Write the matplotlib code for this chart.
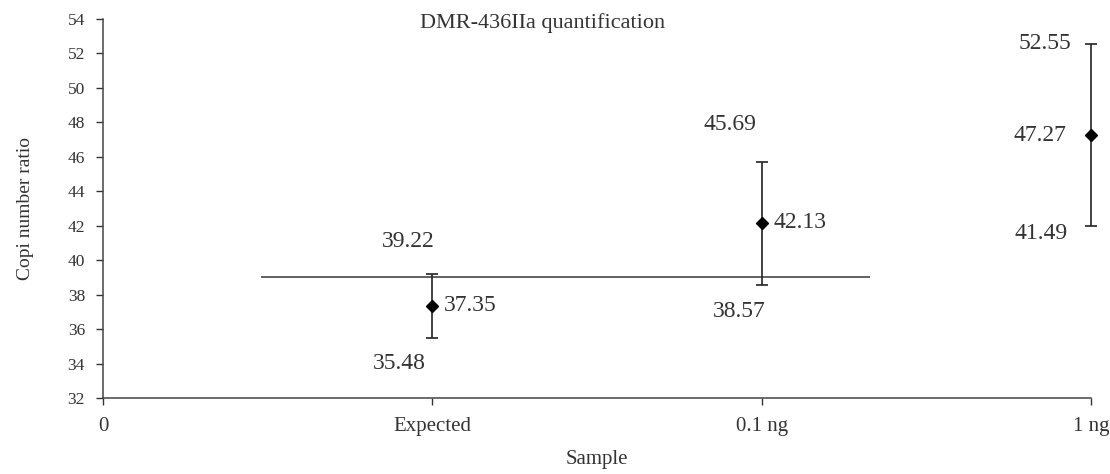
import numpy as np
import matplotlib.pyplot as plt

plt.rcParams['font.family'] = ['Liberation Serif', 'DejaVu Serif']

# data
samples = ['Expected', '0.1 ng', '1 ng']
means = [37.35, 42.13, 47.27]
upper = [39.22, 45.69, 52.55]
lower = [35.48, 38.57, 41.49]   # labels as printed in the chart
ref_level = 39.05               # horizontal reference line
ref_span = (0.48, 2.33)
yticks = np.arange(32, 55, 2)
xtick_labels = ['0'] + samples

# label offsets in pixels (upper, mean, lower), picked by eye
off_up = [(-24, 32), (-32, 38), (-46, 0)]
off_mid = [(11, 0), (12, 1), (-51, -1)]
off_lo = [(-33, -25), (-23, -27), (-50, 1)]
mid_ha = ['left', 'left', 'center']

fig = plt.figure(figsize=(11.1, 4.74), dpi=100)
ax = fig.add_axes([0.0928, 0.1603, 0.8902, 0.7997])

x = np.arange(1, len(samples) + 1)
m = np.array(means)
# bars are drawn symmetric (upper - mean), as in the original
err = np.array(upper) - m

ax.hlines(ref_level, *ref_span, color='#555555', lw=1.3)
ax.errorbar(x, m, yerr=err, fmt='D', color='black', ms=6, ecolor='#222222',
            elinewidth=1.2, capsize=4, capthick=1.2, clip_on=False, zorder=3)

for i in range(len(samples)):
    ax.annotate(f'{upper[i]:.2f}', (x[i], upper[i]), xytext=off_up[i],
                textcoords='offset pixels', ha='center', va='center', fontsize=17, color='#333333')
    ax.annotate(f'{means[i]:.2f}', (x[i], means[i]), xytext=off_mid[i],
                textcoords='offset pixels', ha=mid_ha[i], va='center', fontsize=17, color='#333333')
    ax.annotate(f'{lower[i]:.2f}', (x[i], lower[i]), xytext=off_lo[i],
                textcoords='offset pixels', ha='center', va='center', fontsize=17, color='#333333')

ax.set_xlim(0, 3)
ax.set_ylim(32, 54)
ax.set_xticks(np.arange(0, 4))
ax.set_xticklabels(xtick_labels)
ax.set_yticks(yticks)
ax.tick_params(axis='both', colors='#333333', length=5, width=1)
ax.tick_params(axis='y', labelsize=12.5, pad=8)
ax.tick_params(axis='x', labelsize=15, pad=9)
for s in ['top', 'right']:
    ax.spines[s].set_visible(False)
for s in ['left', 'bottom']:
    ax.spines[s].set_color('#444444')
    ax.spines[s].set_linewidth(1.1)

ax.set_xlabel('Sample', fontsize=15, color='#333333', labelpad=10)
ax.set_ylabel('Copi number ratio', fontsize=14, color='#333333')
ax.yaxis.set_label_coords(-0.07, 0.5)
ax.text(0.445, 0.988, 'DMR-436IIa quantification', transform=ax.transAxes,
        ha='center', va='center', fontsize=16, color='#333333')

fig.savefig('out.png', dpi=100)
